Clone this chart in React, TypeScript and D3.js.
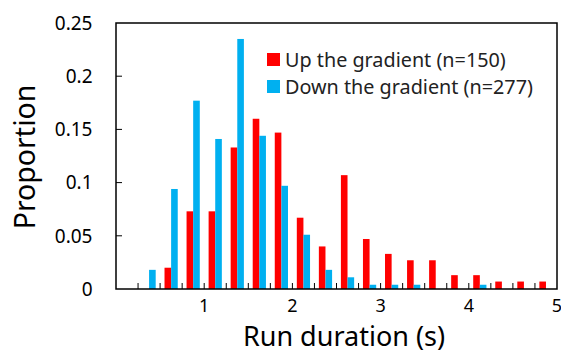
import React, { useEffect, useRef } from 'react';
import * as d3 from 'd3';

// bin start (s), 0.25 s bins
const binStarts = [0, 0.25, 0.5, 0.75, 1, 1.25, 1.5, 1.75, 2, 2.25, 2.5, 2.75, 3, 3.25, 3.5, 3.75, 4, 4.25, 4.5, 4.75];
const upValues = [0, 0, 0.02, 0.073, 0.073, 0.133, 0.16, 0.147, 0.067, 0.04, 0.107, 0.047, 0.033, 0.027, 0.027, 0.013, 0.013, 0.007, 0.007, 0.007];
const downValues = [0, 0.018, 0.094, 0.177, 0.141, 0.235, 0.144, 0.097, 0.051, 0.018, 0.011, 0.004, 0.004, 0.004, 0, 0, 0.004, 0, 0, 0];
const yTicks = [0, 0.05, 0.1, 0.15, 0.2, 0.25];
const xTicks = [1, 2, 3, 4, 5];
const seriesNames = ['Up the gradient (n=150)', 'Down the gradient (n=277)'];
const colors = ['#ff0000', '#00b0f0'];

const App = () => {
  const ref = useRef<SVGSVGElement>(null);

  useEffect(() => {
    const svg = d3.select(ref.current);
    svg.selectAll('*').remove();

    const width = 561;
    const height = 354;
    const margin = { top: 23, right: 4, bottom: 65, left: 116 };
    const font = "'Noto Sans', 'Open Sans', sans-serif";

    const x = d3.scaleLinear()
      .domain([0, 5])
      .range([margin.left, width - margin.right]);

    const y = d3.scaleLinear()
      .domain([0, 0.25])
      .range([height - margin.bottom, margin.top]);

    const binW = x(0.25) - x(0);
    const barW = binW * 0.3;

    const g = svg.append('g');

    // Bars
    const series = [upValues, downValues];
    series.forEach((vals, si) => {
      g.append('g')
        .selectAll('rect')
        .data(vals.map((v, i) => ({ v, start: binStarts[i] })).filter(d => d.v > 0))
        .enter()
        .append('rect')
        .attr('x', d => x(d.start) + binW / 2 - barW + si * barW)
        .attr('y', d => y(d.v))
        .attr('width', barW)
        .attr('height', d => y(0) - y(d.v))
        .attr('fill', colors[si]);
    });

    // Frame
    g.append('rect')
      .attr('x', x(0))
      .attr('y', y(0.25))
      .attr('width', x(5) - x(0))
      .attr('height', y(0) - y(0.25))
      .attr('fill', 'none')
      .attr('stroke', '#000')
      .attr('stroke-width', 1.5);

    // Inner ticks
    g.append('g')
      .selectAll('line')
      .data(binStarts.slice(1))
      .enter()
      .append('line')
      .attr('x1', d => x(d))
      .attr('x2', d => x(d))
      .attr('y1', y(0))
      .attr('y2', y(0) - 6)
      .attr('stroke', '#000')
      .attr('stroke-width', 1);

    g.append('g')
      .selectAll('line')
      .data(yTicks.slice(1, -1))
      .enter()
      .append('line')
      .attr('x1', x(0))
      .attr('x2', x(0) + 6)
      .attr('y1', d => y(d))
      .attr('y2', d => y(d))
      .attr('stroke', '#000')
      .attr('stroke-width', 1);

    // Tick labels
    svg.append('g')
      .selectAll('text')
      .data(yTicks)
      .enter()
      .append('text')
      .attr('x', 92.5)
      .attr('y', d => y(d))
      .attr('dy', '0.36em')
      .attr('text-anchor', 'end')
      .attr('font-family', font)
      .attr('font-size', '19px')
      .attr('fill', '#000')
      .text(d => String(d));

    svg.append('g')
      .selectAll('text')
      .data(xTicks)
      .enter()
      .append('text')
      .attr('x', d => x(d))
      .attr('y', 311.5)
      .attr('text-anchor', 'middle')
      .attr('font-family', font)
      .attr('font-size', '18px')
      .attr('fill', '#000')
      .text(d => String(d));

    // Axis titles
    svg.append('text')
      .attr('x', 344)
      .attr('y', 346)
      .attr('text-anchor', 'middle')
      .attr('font-family', font)
      .attr('font-size', '27px')
      .attr('fill', '#000')
      .text('Run duration (s)');

    svg.append('text')
      .attr('transform', 'rotate(-90)')
      .attr('x', -157)
      .attr('y', 35)
      .attr('text-anchor', 'middle')
      .attr('font-family', font)
      .attr('font-size', '28.5px')
      .attr('fill', '#000')
      .text('Proportion');

    // Legend
    const legend = svg.append('g');
    seriesNames.forEach((name, i) => {
      legend.append('rect')
        .attr('x', 267)
        .attr('y', 53 + i * 27)
        .attr('width', 13)
        .attr('height', 13)
        .attr('fill', colors[i]);
      legend.append('text')
        .attr('x', 285)
        .attr('y', 66.5 + i * 27)
        .attr('font-family', font)
        .attr('font-size', '19.8px')
        .attr('fill', '#222')
        .text(name);
    });
  }, []);

  return (
    <svg
      ref={ref}
      width={561}
      height={354}
      style={{ position: 'absolute', left: 0, top: 0, background: '#fff' }}
    ></svg>
  );
};

export default App;
